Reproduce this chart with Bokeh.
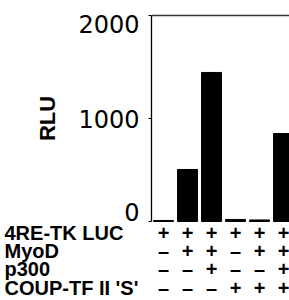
import math
from bokeh.plotting import figure
from bokeh.models import Range1d
from bokeh.core.properties import value
from bokeh.embed import file_html
from bokeh.resources import INLINE

# data
conditions = [1, 2, 3, 4, 5, 6]
rlu = [10, 505, 1447, 20, 15, 854]
y_ticks = [0, 1000, 2000]
y_tick_labels = ["0", "1000", "2000"]
y_label = "RLU"
row_names = ["4RE-TK LUC", "MyoD", "p300", "COUP-TF II 'S'"]
luc   = ["+", "+", "+", "+", "+", "+"]
myod  = ["–", "+", "+", "–", "+", "+"]
p300  = ["–", "–", "+", "–", "–", "+"]
coup  = ["–", "–", "–", "+", "+", "+"]

# layout (pixels)
W, H = 289, 300
PX_X = 24.0            # pixels per condition
FIRST_BAR_PX = 163     # centre of first bar
ZERO_PX = 221          # baseline
PX_Y = 0.103           # pixels per RLU
ROW_PX = [232, 250, 268, 287]

x_start = conditions[0] - FIRST_BAR_PX / PX_X
x_end = x_start + W / PX_X
y_top = ZERO_PX / PX_Y
y_bottom = -(H - ZERO_PX) / PX_Y
axis_x = conditions[0] - 0.5
y_max = max(y_ticks)

def px_to_x(px):
    return x_start + px / PX_X

def px_to_y(px):
    return (ZERO_PX - px) / PX_Y

p = figure(width=W, height=H, output_backend="svg", toolbar_location=None,
           x_range=Range1d(x_start, x_end), y_range=Range1d(y_bottom, y_top),
           min_border_left=0, min_border_right=0, min_border_top=0, min_border_bottom=0)
p.outline_line_color = None
p.grid.visible = False
p.axis.visible = False

# bars
p.vbar(x=conditions, top=rlu, bottom=0, width=0.83, color="black")

# y axis line, top frame line and ticks
p.segment(x0=[axis_x], y0=[0], x1=[axis_x], y1=[y_max], line_color="black", line_width=1.3)
p.segment(x0=[axis_x], y0=[y_max], x1=[x_end], y1=[y_max], line_color="#333333", line_width=1.3)
p.segment(x0=[axis_x - 3 / PX_X] * len(y_ticks), y0=y_ticks,
          x1=[axis_x] * len(y_ticks), y1=y_ticks, line_color="black", line_width=1)

# tick labels (scanned original sits the end labels slightly inward)
nudge = [-10 if t == min(y_ticks) else (8 if t == y_max else 0) for t in y_ticks]
p.text(x=[axis_x - 12 / PX_X] * len(y_ticks), y=y_ticks, text=y_tick_labels,
       y_offset=nudge, text_align="right", text_baseline="middle",
       text_font=value("DejaVu Sans"), text_font_size="24px", text_color="black")

# axis title
p.text(x=[px_to_x(47)], y=[y_max / 2], text=[y_label], angle=math.pi / 2,
       text_align="center", text_baseline="middle",
       text_font=value("Liberation Sans"), text_font_style="bold",
       text_font_size="22px", text_color="black")

# table below the bars
xs, ys, txt = [], [], []
for r, vals in enumerate([luc, myod, p300, coup]):
    for c, v in zip(conditions, vals):
        xs.append(c); ys.append(px_to_y(ROW_PX[r])); txt.append(v)
p.text(x=xs, y=ys, text=txt, text_align="center", text_baseline="middle",
       text_font=value("Liberation Sans"), text_font_style="bold",
       text_font_size="20px", text_color="black")

p.text(x=[px_to_x(4)] * len(row_names), y=[px_to_y(v) for v in ROW_PX], text=row_names,
       text_align="left", text_baseline="middle",
       text_font=value("Liberation Sans"), text_font_style="bold",
       text_font_size="20px", text_color="black")

open("out.html", "w").write(file_html(p, INLINE))
